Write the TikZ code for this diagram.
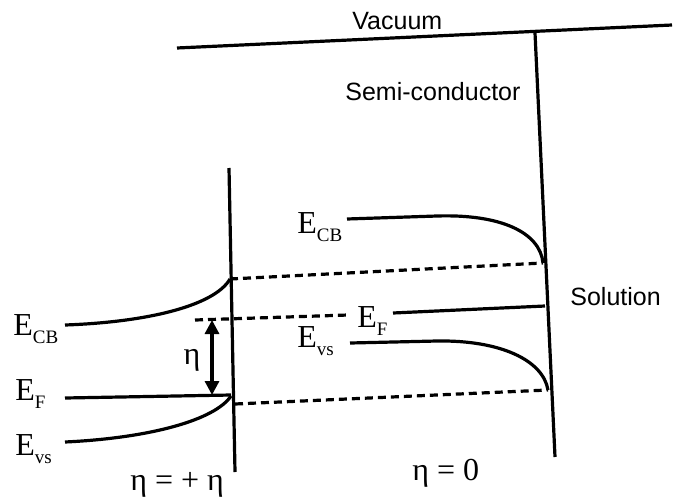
\documentclass[tikz,border=0pt]{standalone}
\usepackage{fontspec}
\setmainfont{Liberation Serif}
\newfontfamily\labsans{Liberation Sans}
\usetikzlibrary{arrows.meta}
\newcommand{\lev}[2]{#1\raisebox{-4pt}{\fontsize{9.5}{10}\selectfont #2}}

\begin{document}
\begin{tikzpicture}[x=0.5pt,y=-0.5pt,
  band/.style={line width=1.6pt},
  dashband/.style={line width=1.6pt, dash pattern=on 4pt off 2.5pt},
  lvl/.style={font=\fontsize{16}{18}\selectfont, inner sep=0pt, anchor=base west},
  phase/.style={font=\labsans\fontsize{12.5}{14}\selectfont, inner sep=0pt, anchor=base west}]
\useasboundingbox (0,0) rectangle (684,498);
\coordinate (vacL) at (177,48);
\coordinate (vacR) at (672,25);
\coordinate (solTop) at (535,33);
\coordinate (solBot) at (555,457);
\coordinate (elTop) at (229,168);
\coordinate (elBot) at (235,472);
\draw[band] (vacL) -- (vacR);
\draw[band] (solTop) -- (solBot);
\draw[band] (elTop) -- (elBot);
\node[phase] (vac) at (352,29) {Vacuum};
\node[phase] (semi) at (345,100) {Semi-conductor};
\node[phase] (sol) at (570,305) {Solution};
\node[lvl] (ecbL) at (13,335) {\lev{E}{CB}};
\node[lvl] (efL) at (15,400) {\lev{E}{F}};
\node[lvl] (evsL) at (15,455) {\lev{E}{vs}};
\node[lvl] (ecbR) at (297,233) {\lev{E}{CB}};
\node[lvl] (efR) at (357,327) {\lev{E}{F}};
\node[lvl] (evsR) at (297,347) {\lev{E}{vs}};
\coordinate (cbL0) at (65,325);
\coordinate (cbL1) at (230,279);
\coordinate (fL0) at (65,398);
\coordinate (fL1) at (231,395);
\coordinate (vsL0) at (65,442);
\coordinate (vsL1) at (231,396);
\coordinate (cbR0) at (347,219);
\coordinate (cbR1) at (543,263);
\coordinate (fR0) at (393,313);
\coordinate (fR1) at (545,306);
\coordinate (vsR0) at (350,343);
\coordinate (vsR1) at (548,390);
\draw[band] (cbL0) .. controls (150,322) and (215,305) .. (cbL1);
\draw[band] (fL0) -- (fL1);
\draw[band] (vsL0) .. controls (150,438) and (215,420) .. (vsL1);
\draw[band] (cbR0) -- (437,216) .. controls (500,214) and (540,232) .. (cbR1);
\draw[band] (fR0) -- (fR1);
\draw[band] (vsR0) -- (437,341) .. controls (500,340) and (543,360) .. (vsR1);
\draw[dashband] (cbL1) -- (cbR1);
\draw[dashband] (195,320) -- (348,315);
\draw[dashband] (235,404) -- (vsR1);
\coordinate (etaTop) at (212,320);
\coordinate (etaBot) at (212,395);
\draw[band, {Triangle[width=7pt,length=7pt]}-{Triangle[width=7pt,length=7pt]}] (etaTop) -- (etaBot);
\node[font=\fontsize{16}{18}\selectfont, inner sep=0pt] (eta) at (192,360) {η};
\node[lvl] (etaPos) at (130,490) {η = + η};
\node[lvl] (etaZero) at (412,480) {η = 0};
\end{tikzpicture}
\end{document}
